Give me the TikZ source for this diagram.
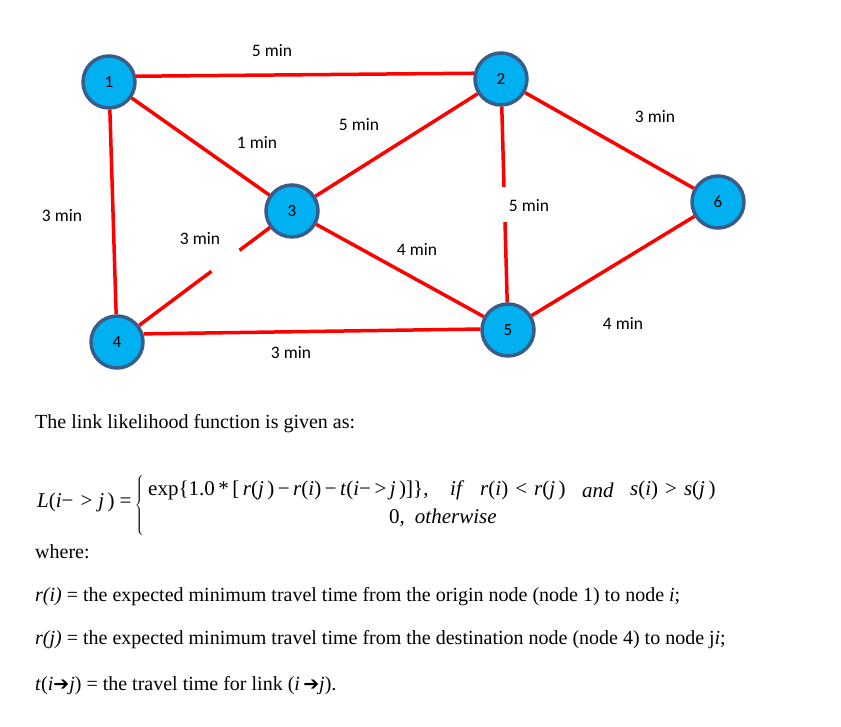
\documentclass[tikz,border=0pt]{standalone}
\usepackage{fontspec}
\setmainfont{Liberation Serif}
\newfontfamily\calfont{Carlito}
\newfontfamily\arrowfont{DejaVu Sans}
\usetikzlibrary{calc}
\definecolor{nodeblue}{HTML}{00B0F0}
\definecolor{rimblue}{HTML}{385D8A}
\definecolor{linkred}{HTML}{FF0000}
\newcommand{\linkarrow}{{\arrowfont\fontsize{19}{20}\selectfont ➔}}

\begin{document}
\begin{tikzpicture}[x=1pt,y=-1pt,
  city/.style={circle,fill=nodeblue,draw=rimblue,line width=3.5pt,minimum size=52pt,inner sep=0pt,font=\calfont\fontsize{17}{20}\selectfont},
  link/.style={draw=linkred,line width=3.5pt},
  cost/.style={font=\calfont\fontsize{17.5}{20}\selectfont},
  txt/.style={anchor=west,inner sep=0pt,font=\fontsize{20}{24}\selectfont},
  formula/.style={txt,font=\fontsize{21}{24}\selectfont}]
\useasboundingbox (0,0) rectangle (841,727);

  \node[city] (n1) at (109,82) {1};
  \node[city] (n2) at (501,79) {2};
  \node[city] (n3) at (292,211) {3};
  \node[city] (n4) at (117,342) {4};
  \node[city] (n5) at (508,330) {5};
  \node[city] (n6) at (718,202) {6};

  \coordinate (g25a) at ($(n2)!.43!(n5)$);
  \coordinate (g25b) at ($(n2)!.57!(n5)$);
  \coordinate (g34a) at ($(n3)!.30!(n4)$);
  \coordinate (g34b) at ($(n3)!.46!(n4)$);

\draw[link] (n1.12) -- (n2.168);
\draw[link] (n1) -- (n4) (n1) -- (n3) (n2) -- (n3) (n2) -- (n6);
\draw[link] (n3) -- (n5) (n5) -- (n6);
\draw[link] (n4.17) -- (n5.178);
\draw[link] (n2) -- (g25a) (g25b) -- (n5);
\draw[link] (n3) -- (g34a) (g34b) -- (n4);

  \node[cost] (c12) at (272,51) {5 min};
  \node[cost] (c13) at (257,142) {1 min};
  \node[cost] (c23) at (359,125) {5 min};
  \node[cost] (c14) at (62,216) {3 min};
  \node[cost] (c34) at (200,239) {3 min};
  \node[cost] (c35) at (417,249) {4 min};
  \node[cost] (c45) at (291,353) {3 min};
  \node[cost] (c26) at (655,117) {3 min};
  \node[cost] (c25) at (529,206) {5 min};
  \node[cost] (c56) at (623,323) {4 min};

  \node[txt] (intro) at (35,424) {The link likelihood function is given as:};

  \node[formula] (lhs) at (37,502) {\textit{L}(\textit{i}−\hspace{7pt}>\hspace{6pt}\textit{j}\,)\hspace{5pt}=};
  \node[inner sep=0pt,font=\fontsize{21}{24}\selectfont] (brace) at (140,506) {$\left\{\vrule height 26pt depth 26pt width 0pt\right.$};
  \node[formula] (top) at (148,490) {exp\{1.0\,*\,[\,\textit{r}(\textit{j}\,)\,−\,\textit{r}(\textit{i})\,−\,\textit{t}(\textit{i}−\,>\,\textit{j}\,)]\},};
  \node[formula] (cif) at (450,490) {\textit{if}};
  \node[formula] (cr) at (480,490) {\textit{r}(\textit{i})\,\,<\,\,\textit{r}(\textit{j}\,)};
  \node[formula] (cand) at (582,490) {\textit{and}};
  \node[formula] (cs) at (630,490) {\textit{s}(\textit{i})\,\,>\,\,\textit{s}(\textit{j}\,)};
  \node[formula] (bot) at (389,518) {0,\hspace{10pt}\textit{otherwise}};

  \node[txt] (where) at (35,552) {where:};
  \node[txt] (ri) at (35,597) {\textit{r(i)} = the expected minimum travel time from the origin node (node 1) to node \textit{i};};
  \node[txt] (rj) at (35,640) {\textit{r(j)} = the expected minimum travel time from the destination node (node 4) to node j\textit{i};};
  \node[txt] (tij) at (35,686) {\textit{t}(\textit{i}\linkarrow\textit{j}) = the travel time for link (\textit{i}\,\linkarrow\textit{j}).};
\end{tikzpicture}
\end{document}
